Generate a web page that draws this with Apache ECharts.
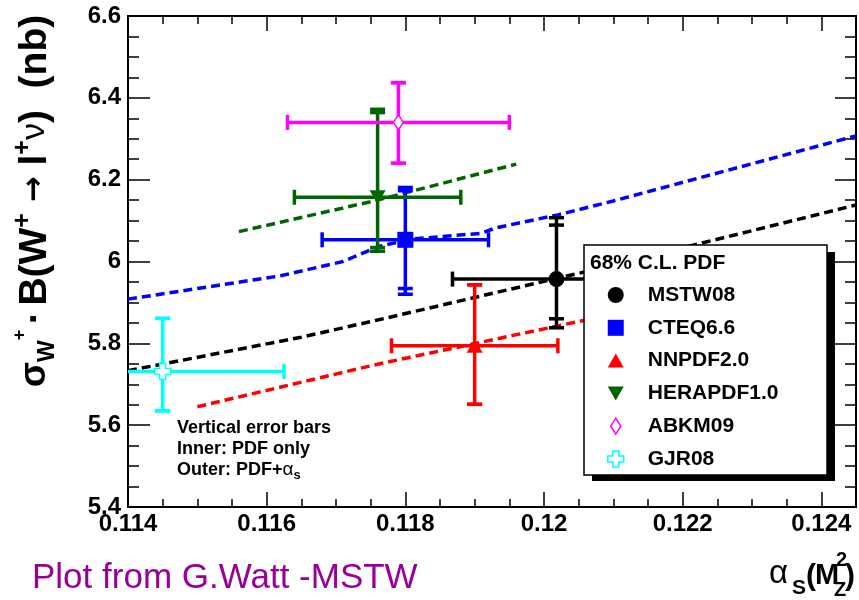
<!DOCTYPE html>
<html>
<head>
<meta charset="utf-8">
<script src="https://cdn.jsdelivr.net/npm/echarts@6/dist/echarts.min.js"></script>
<style>
  html, body { margin: 0; padding: 0; background: #ffffff; }
  #chart { width: 859px; height: 600px; }
</style>
</head>
<body>
<div id="chart"></div>
<script>
// W+ -> l+ nu cross section predictions versus alpha_S(M_Z^2) for several PDF sets

// PDF sets, central alpha_S values and their alpha_S uncertainty
const pdfSets   = ['MSTW08', 'CTEQ6.6', 'NNPDF2.0', 'HERAPDF1.0', 'ABKM09', 'GJR08'];
const alphaS    = [0.12018, 0.1180, 0.1190, 0.1176, 0.1179, 0.1145];
const alphaSErr = [0.0015, 0.0012, 0.0012, 0.0012, 0.0016, 0.00175];

// sigma_W+ * B(W+ -> l+ nu) in nb, with PDF-only (inner) and PDF+alpha_S (outer) limits
const sigmaW     = [5.957, 6.053, 5.794, 6.157, 6.340, 5.731];
const innerLow   = [5.860, 5.934, 5.651, 6.034, 6.240, 5.635];
const innerHigh  = [6.089, 6.173, 5.943, 6.364, 6.437, 5.861];
const outerLow   = [5.838, 5.920, 5.651, 6.025, 6.240, 5.635];
const outerHigh  = [6.107, 6.181, 5.943, 6.372, 6.437, 5.861];

// cross section as a function of alpha_S for the sets that provide alpha_S series
const mstwCurveAlpha  = [0.114, 0.1165, 0.1176, 0.1206, 0.1245];
const mstwCurveSigma  = [5.733, 5.815, 5.857, 5.975, 6.138];
const cteqCurveAlpha  = [0.114, 0.1162, 0.1171, 0.1176, 0.1181, 0.1191, 0.1193, 0.1202, 0.1210, 0.1245];
const cteqCurveSigma  = [5.908, 5.965, 6.000, 6.036, 6.055, 6.069, 6.082, 6.114, 6.148, 6.307];
const nnpdfCurveAlpha = [0.1150, 0.1176, 0.1206, 0.1215];
const nnpdfCurveSigma = [5.645, 5.749, 5.857, 5.890];
const heraCurveAlpha  = [0.1156, 0.1162, 0.1176, 0.1196];
const heraCurveSigma  = [6.073, 6.096, 6.150, 6.238];

// axis tick labels
const xTickLabels = ['0.114', '0.116', '0.118', '0.12', '0.122', '0.124'];
const yTickLabels = ['5.4', '5.6', '5.8', '6', '6.2', '6.4', '6.6'];

const X_MIN = 0.114, X_MAX = 0.1245, X_STEP = 0.002;
const Y_MIN = 5.4, Y_MAX = 6.6, Y_STEP = 0.2;

const FONT = "'Liberation Sans', Arial, Helvetica, sans-serif";

// marker look of each PDF set
const setStyles = [
  { color: '#000000', symbol: 'circle', size: 16 },
  { color: '#0000ff', symbol: 'rect', size: 16 },
  { color: '#ff0000', symbol: 'path://M8,0 L16,14 L0,14 Z', size: [16, 14] },
  { color: '#006600', symbol: 'path://M0,0 L16,0 L8,14 Z', size: [16, 14] },
  { color: '#ff00ff', symbol: 'path://M5,0 L10,8 L5,16 L0,8 Z', size: [10, 15], hollow: true },
  { color: '#00ffff', symbol: 'path://M5,0 H11 V5 H16 V11 H11 V16 H5 V11 H0 V5 H5 Z', size: 16, hollow: true }
];

const curves = [
  { name: 'MSTW08 curve',     a: mstwCurveAlpha,  s: mstwCurveSigma,  color: '#000000' },
  { name: 'CTEQ6.6 curve',    a: cteqCurveAlpha,  s: cteqCurveSigma,  color: '#0000ff' },
  { name: 'NNPDF2.0 curve',   a: nnpdfCurveAlpha, s: nnpdfCurveSigma, color: '#ff0000' },
  { name: 'HERAPDF1.0 curve', a: heraCurveAlpha,  s: heraCurveSigma,  color: '#006600' }
];

function tickFormatter(labels, min, step) {
  return function (v) {
    const i = Math.round((v - min) / step);
    if (i >= 0 && i < labels.length && Math.abs(v - (min + i * step)) < step * 1e-4) return labels[i];
    return '';
  };
}

// horizontal alpha_S bar plus vertical bar with inner and outer caps
function errorBarRenderer(color) {
  return function (params, api) {
    const x = api.value(0), y = api.value(1), xe = api.value(2);
    const c = api.coord([x, y]);
    const l = api.coord([x - xe, y]);
    const r = api.coord([x + xe, y]);
    const yInLo = api.coord([x, api.value(3)])[1];
    const yInHi = api.coord([x, api.value(4)])[1];
    const yOutLo = api.coord([x, api.value(5)])[1];
    const yOutHi = api.coord([x, api.value(6)])[1];
    const cap = 7.5;
    const st = { stroke: color, lineWidth: 3.5, fill: null };
    const seg = (x1, y1, x2, y2) => ({ type: 'line', shape: { x1, y1, x2, y2 }, style: st });
    return {
      type: 'group',
      children: [
        seg(l[0], c[1], r[0], c[1]),
        seg(l[0], c[1] - cap, l[0], c[1] + cap),
        seg(r[0], c[1] - cap, r[0], c[1] + cap),
        seg(c[0], yOutLo, c[0], yOutHi),
        seg(c[0] - cap, yOutLo, c[0] + cap, yOutLo),
        seg(c[0] - cap, yOutHi, c[0] + cap, yOutHi),
        seg(c[0] - cap, yInLo, c[0] + cap, yInLo),
        seg(c[0] - cap, yInHi, c[0] + cap, yInHi)
      ]
    };
  };
}

const series = [];

curves.forEach(function (cv) {
  series.push({
    type: 'line',
    name: cv.name,
    data: cv.a.map((a, k) => [a, cv.s[k]]),
    symbol: 'none',
    showSymbol: false,
    clip: true,
    silent: true,
    z: 2,
    lineStyle: { color: cv.color, width: 3.5, type: [9, 5] }
  });
});

pdfSets.forEach(function (name, i) {
  const st = setStyles[i];
  series.push({
    type: 'custom',
    name: name + ' errors',
    renderItem: errorBarRenderer(st.color),
    data: [[alphaS[i], sigmaW[i], alphaSErr[i], innerLow[i], innerHigh[i], outerLow[i], outerHigh[i]]],
    encode: { x: 0, y: 1 },
    clip: true,
    silent: true,
    z: 3
  });
});

pdfSets.forEach(function (name, i) {
  const st = setStyles[i];
  series.push({
    type: 'scatter',
    name: name,
    data: [[alphaS[i], sigmaW[i]]],
    symbol: st.symbol,
    symbolSize: st.size,
    silent: true,
    z: 4,
    itemStyle: st.hollow
      ? { color: '#ffffff', borderColor: st.color, borderWidth: 1.5, opacity: 1 }
      : { color: st.color, opacity: 1 }
  });
});

function xAxisDef(position, interval, tickLen, withLabels, withLine) {
  return {
    type: 'value', position: position, min: X_MIN, max: X_MAX, interval: interval,
    axisLine: { show: withLine, onZero: false, lineStyle: { color: '#000', width: 2 } },
    axisTick: { show: true, inside: true, length: tickLen, lineStyle: { color: '#000', width: 1.5 } },
    axisLabel: withLabels ? {
      show: true, margin: 5, color: '#000', fontFamily: FONT, fontSize: 24, fontWeight: 'bold',
      showMaxLabel: false, showMinLabel: true,
      formatter: tickFormatter(xTickLabels, X_MIN, X_STEP)
    } : { show: false },
    splitLine: { show: false }
  };
}

function yAxisDef(position, majorLen, withLabels) {
  return {
    type: 'value', position: position, min: Y_MIN, max: Y_MAX, interval: Y_STEP,
    axisLine: { show: true, onZero: false, lineStyle: { color: '#000', width: 2 } },
    axisTick: { show: true, inside: true, length: majorLen, lineStyle: { color: '#000', width: 1.5 } },
    minorTick: { show: true, splitNumber: 4, length: 11, lineStyle: { color: '#000', width: 1.5 } },
    axisLabel: withLabels ? {
      show: true, margin: 7, color: '#000', fontFamily: FONT, fontSize: 24, fontWeight: 'bold',
      showMinLabel: true, showMaxLabel: true,
      formatter: tickFormatter(yTickLabels, Y_MIN, Y_STEP)
    } : { show: false },
    splitLine: { show: false },
    minorSplitLine: { show: false }
  };
}

const legendData = pdfSets.map(function (name, i) {
  const st = setStyles[i];
  return {
    name: name,
    icon: st.symbol,
    itemStyle: st.hollow
      ? { color: '#ffffff', borderColor: st.color, borderWidth: 1.5 }
      : { color: st.color, borderWidth: 0 }
  };
});

const txt = (x, y, text, extra) => Object.assign({
  type: 'text', x: x, y: y, z: 12,
  style: Object.assign({
    text: text, fill: '#000', font: 'bold 18px ' + FONT,
    align: 'left', textAlign: 'left', verticalAlign: 'middle', textVerticalAlign: 'middle'
  }, extra || {})
});

const option = {
  animation: false,
  backgroundColor: '#ffffff',
  grid: { left: 128, right: 3, top: 16, bottom: 93, containLabel: false, outerBoundsMode: 'none' },
  xAxis: [
    xAxisDef('bottom', X_STEP, 15, true, true),
    xAxisDef('bottom', X_STEP / 4, 8, false, false),
    xAxisDef('top', X_STEP, 15, false, true),
    xAxisDef('top', X_STEP / 4, 8, false, false)
  ],
  yAxis: [
    yAxisDef('left', 22, true),
    yAxisDef('right', 21, false)
  ],
  legend: {
    data: legendData,
    orient: 'vertical',
    left: 607, top: 283,
    padding: 0,
    itemWidth: 16, itemHeight: 16, itemGap: 8.8,
    selectedMode: false,
    z: 20,
    textStyle: { color: '#000', fontFamily: FONT, fontSize: 21, fontWeight: 'bold', lineHeight: 24, padding: [0, 0, 0, 19] }
  },
  graphic: [
    // legend frame with its drop shadow
    { type: 'rect', z: 10, shape: { x: 592, y: 252, width: 243, height: 229 }, style: { fill: '#000' } },
    { type: 'rect', z: 11, shape: { x: 584, y: 245, width: 243, height: 230 }, style: { fill: '#fff', stroke: '#000', lineWidth: 1.5 } },
    txt(590, 263, '68% C.L. PDF', { font: 'bold 21px ' + FONT }),

    // note about the vertical error bars
    txt(177, 428, 'Vertical error bars'),
    txt(177, 449, 'Inner: PDF only'),
    txt(177, 470, '{b|Outer: PDF+}{g|α}{s|s}', {
      rich: {
        b: { font: 'bold 18px ' + FONT, fill: '#000', lineHeight: 24 },
        g: { font: '19px ' + FONT, fill: '#000', lineHeight: 24 },
        s: { font: 'bold 13px ' + FONT, fill: '#000', lineHeight: 12, verticalAlign: 'bottom' }
      }
    }),

    // y axis title
    {
      type: 'text', x: 35, y: 201, rotation: Math.PI / 2, z: 12,
      style: {
        text: '{g|σ}{sub|W}{subsup|+}{sp| }{m|·}{sp| }{m|B(W}{sup|+}{ar| → }{m|l}{sup|+}{gn|ν}{m|)  (nb)}',
        align: 'center', textAlign: 'center', verticalAlign: 'middle', textVerticalAlign: 'middle',
        rich: {
          m: { font: 'bold 39px ' + FONT, fill: '#000', lineHeight: 48 },
          sp: { font: 'bold 20px ' + FONT, fill: '#000', lineHeight: 48 },
          g: { font: 'bold 37px ' + FONT, fill: '#000', lineHeight: 48 },
          gn: { font: '34px ' + FONT, fill: '#000', lineHeight: 48 },
          ar: { font: 'bold 31px DejaVu Sans', fill: '#000', lineHeight: 48 },
          sub: { font: 'bold 23px ' + FONT, fill: '#000', lineHeight: 23, verticalAlign: 'bottom' },
          subsup: { font: 'bold 18px ' + FONT, fill: '#000', lineHeight: 38, verticalAlign: 'top' },
          sup: { font: 'bold 25px ' + FONT, fill: '#000', lineHeight: 21, verticalAlign: 'top' }
        }
      }
    },

    // x axis title: alpha_S(M_Z^2)
    txt(769, 574, 'α', { font: '33px ' + FONT }),
    txt(792, 588, 'S', { font: 'bold 21px ' + FONT }),
    txt(806, 577, '(', { font: 'bold 30px ' + FONT }),
    txt(815, 576, 'M', { font: 'bold 29px ' + FONT }),
    txt(836, 560, '2', { font: 'bold 20px ' + FONT }),
    txt(834, 590, 'Z', { font: 'bold 20px ' + FONT }),
    txt(845, 577, ')', { font: 'bold 30px ' + FONT }),

    // credit line
    txt(32, 578, 'Plot from G.Watt -MSTW', { font: '35px ' + FONT, fill: '#990099' })
  ],
  series: series
};

const chart = echarts.init(document.getElementById('chart'), null, { renderer: 'canvas' });
chart.setOption(option);
</script>
</body>
</html>
